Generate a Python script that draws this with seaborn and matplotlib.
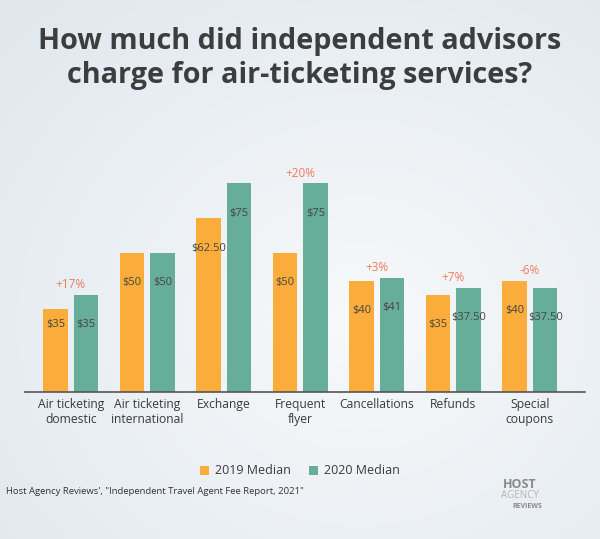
import numpy as np
import pandas as pd
import matplotlib
matplotlib.use("Agg")
import matplotlib.pyplot as plt
import seaborn as sns

# ==========================
# Data
# ==========================
categories = ["Air ticketing\ndomestic", "Air ticketing\ninternational", "Exchange",
              "Frequent\nflyer", "Cancellations", "Refunds", "Special\ncoupons"]
median_2019 = [30, 50, 62.5, 50, 40, 35, 40]      # bar heights as drawn
median_2020 = [35, 50, 75, 75, 41, 37.5, 37.5]
label_2019 = [35, 50, 62.5, 50, 40, 35, 40]       # values printed on bars
label_2020 = [35, 50, 75, 75, 41, 37.5, 37.5]
changes = ["+17%", "", "", "+20%", "+3%", "+7%", "-6%"]
series = ["2019 Median", "2020 Median"]
colors = ["#FBAD3C", "#66AE97"]

df = pd.DataFrame({
    "category": categories * 2,
    "value": median_2019 + median_2020,
    "series": [series[0]] * len(categories) + [series[1]] * len(categories),
})

def money(v):
    return f"${v:.0f}" if float(v).is_integer() else f"${v:.2f}"

# ==========================
# Figure
# ==========================
sns.set_theme(style="white")
plt.rcParams["font.family"] = ["Open Sans", "DejaVu Sans"]

fig = plt.figure(figsize=(6, 5.39), dpi=100)

# soft background gradient
bg = fig.add_axes([0, 0, 1, 1], zorder=-10)
yy, xx = np.mgrid[0:1:200j, 0:1:220j]
r = np.sqrt((xx - 0.6) ** 2 + (yy - 0.6) ** 2)
shade = np.clip(r / 0.8, 0, 1)
c_in = np.array([0.97, 0.977, 0.983])
c_out = np.array([0.88, 0.91, 0.935])
img = c_in + (c_out - c_in) * shade[..., None]
bg.imshow(img, aspect="auto", extent=[0, 1, 0, 1], origin="upper")
bg.axis("off")

ax = fig.add_axes([25 / 600, 1 - 392 / 539, 560 / 600, (392 - 169.6) / 539])
ax.set_facecolor("none")

sns.barplot(data=df, x="category", y="value", hue="series", palette=colors,
            width=0.8, gap=0.2, saturation=1, linewidth=0, ax=ax, legend=True)

ax.set_xlim(-0.6, 6.72)
ax.set_ylim(0, 80)
ax.set_xlabel("")
ax.set_ylabel("")
ax.set_yticks([])
for s in ["top", "right", "left"]:
    ax.spines[s].set_visible(False)
ax.spines["bottom"].set_color("#555555")
ax.spines["bottom"].set_linewidth(1.2)
ax.tick_params(axis="x", length=0, pad=4, labelsize=8.7, labelcolor="#3a3a3a")

# value labels inside bars
for cont, labels in zip(ax.containers, [label_2019, label_2020]):
    for bar, lv in zip(cont, labels):
        xc = bar.get_x() + bar.get_width() / 2
        ax.annotate(money(lv), (xc, lv), xytext=(0, -21.5), textcoords="offset points",
                    ha="center", va="center", fontsize=8, color="#444444")

# change annotations above each group
for i, txt in enumerate(changes):
    if not txt:
        continue
    top = max(median_2019[i], median_2020[i])
    ax.annotate(txt, (i, top), xytext=(0, 7.5), textcoords="offset points",
                ha="center", va="center", fontsize=8.5, color="#EF7A5C",
                annotation_clip=False)

sns.move_legend(ax, "center", bbox_to_anchor=(0.5, 1 - 471 / 539),
                bbox_transform=fig.transFigure, ncol=2, frameon=False,
                title=None, fontsize=9, handlelength=0.7, handleheight=0.7,
                handletextpad=0.5, columnspacing=1.5)
for t in ax.get_legend().get_texts():
    t.set_color("#3a3a3a")

fig.text(0.5, 1 - 42 / 539, "How much did independent advisors",
         ha="center", va="center", fontsize=20.7, fontweight="bold", color="#3d3d3d")
fig.text(0.5, 1 - 75 / 539, "charge for air-ticketing services?",
         ha="center", va="center", fontsize=20.7, fontweight="bold", color="#3d3d3d")

fig.text(6 / 600, 1 - 492 / 539,
         "Host Agency Reviews', \"Independent Travel Agent Fee Report, 2021\"",
         ha="left", va="center", fontsize=6.8, color="#333333")

# logo text
fig.text(520 / 600, 1 - 485 / 539, "HOST", ha="center", va="center",
         fontsize=9, fontweight="bold", color="#8a8a8a")
fig.text(520 / 600, 1 - 496 / 539, "AGENCY", ha="center", va="center",
         fontsize=7, color="#b5b5b5")
fig.text(527 / 600, 1 - 506 / 539, "REVIEWS", ha="center", va="center",
         fontsize=5, fontweight="bold", color="#8a8a8a")

fig.savefig("out.png", dpi=100)
